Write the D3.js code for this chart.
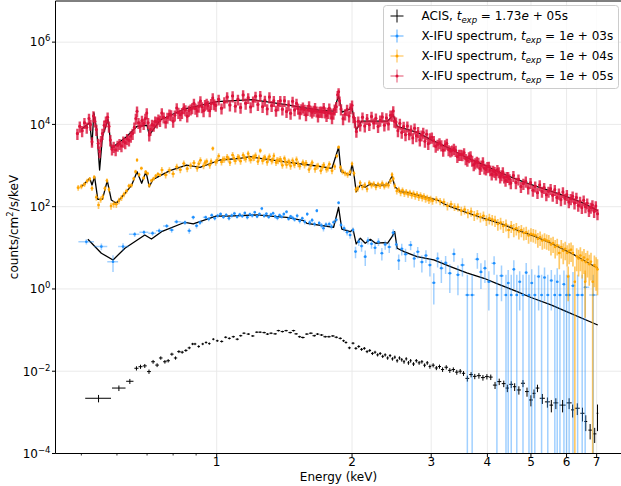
<!DOCTYPE html>
<html>
<head>
<meta charset="utf-8">
<script src="https://cdn.jsdelivr.net/npm/d3@7"></script>
<style>
  body { margin: 0; background: #fff; }
  svg { display: block; font-family: "DejaVu Sans", sans-serif; }
  text { white-space: pre; }
</style>
</head>
<body>
<svg id="chart" width="621" height="486"></svg>
<script>
// ---- Chandra ACIS spectrum: [energy keV, half bin width, value, error]
const acis = [
  [0.546,0.036,2.2e-3,0.45e-3],[0.606,0.021,3.9e-3,0.6e-3],[0.641,0.012,5.7e-3,0.8e-3],
  [0.663,0.007,1.18e-2,1.4e-3],[0.677,0.007,1.29e-2,1.5e-3],[0.692,0.007,1.35e-2,1.5e-3],
  [0.707,0.007,9.8e-3,1.2e-3],[0.722,0.007,1.7e-2,1.8e-3],[0.737,0.007,1.41e-2,1.5e-3],
  [0.751,0.007,2.1e-2,2.0e-3],[0.767,0.007,1.7e-2,1.7e-3],[0.780,0.007,1.8e-2,1.7e-3],
  [0.795,0.007,2.6e-2,2.2e-3],[0.810,0.007,2.1e-2,1.9e-3],[0.824,0.007,3.0e-2,2.4e-3],
  [0.838,0.007,2.9e-2,2.3e-3],[0.854,0.007,3.2e-2,2.4e-3],[0.869,0.007,3.7e-2,2.7e-3],
  [0.884,0.006,4.6e-2,3.0e-3],[0.895,0.006,4.6e-2,3.0e-3],[0.912,0.006,4.0e-2,2.8e-3],
  [0.931,0.006,4.6e-2,3.0e-3],[0.947,0.006,5.0e-2,3.2e-3],[0.963,0.006,4.7e-2,3.0e-3],
  [0.983,0.006,6.0e-2,3.5e-3],[1.003,0.007,5.5e-2,3.3e-3],[1.026,0.008,5.3e-2,3.2e-3],
  [1.047,0.008,6.7e-2,3.7e-3],[1.067,0.008,6.3e-2,3.6e-3],[1.089,0.009,6.9e-2,3.8e-3],
  [1.111,0.009,6.0e-2,3.5e-3],[1.131,0.009,7.3e-2,3.9e-3],[1.150,0.009,8.4e-2,4.2e-3],
  [1.176,0.010,8.0e-2,4.1e-3],[1.203,0.010,7.2e-2,3.9e-3],[1.228,0.010,8.9e-2,4.3e-3],
  [1.249,0.010,8.9e-2,4.3e-3],[1.275,0.011,8.7e-2,4.3e-3],[1.297,0.011,8.0e-2,4.1e-3],
  [1.321,0.011,8.4e-2,4.2e-3],[1.349,0.012,8.1e-2,4.1e-3],[1.372,0.012,9.7e-2,4.5e-3],
  [1.400,0.012,9.2e-2,4.4e-3],[1.427,0.012,9.7e-2,4.5e-3],[1.457,0.013,8.7e-2,4.3e-3],
  [1.482,0.013,9.7e-2,4.5e-3],[1.502,0.013,8.1e-2,4.1e-3],[1.529,0.013,6.9e-2,3.8e-3],
  [1.555,0.014,6.6e-2,3.7e-3],[1.587,0.014,8.0e-2,4.1e-3],[1.620,0.015,8.4e-2,4.2e-3],
  [1.648,0.015,7.3e-2,3.9e-3],[1.676,0.015,8.0e-2,4.1e-3],[1.711,0.016,7.6e-2,4.0e-3],
  [1.743,0.016,6.9e-2,3.8e-3],[1.777,0.016,6.9e-2,3.8e-3],[1.813,0.016,7.2e-2,3.9e-3],
  [1.845,0.016,6.7e-2,3.7e-3],[1.883,0.016,6.3e-2,3.6e-3],[1.915,0.013,5.5e-2,3.4e-3],
  [1.939,0.013,5.0e-2,3.2e-3],[1.973,0.015,3.7e-2,2.7e-3],[2.010,0.015,4.8e-2,3.1e-3],
  [2.040,0.015,3.6e-2,2.7e-3],[2.07,0.015,0.040,0.003],[2.10,0.015,0.034,0.0027],
  [2.13,0.015,0.036,0.0028],[2.16,0.015,0.030,0.0025],[2.19,0.015,0.032,0.0026],
  [2.22,0.015,0.027,0.0023],[2.25,0.015,0.029,0.0024],[2.28,0.015,0.025,0.0022],
  [2.31,0.015,0.027,0.0023],[2.34,0.015,0.023,0.0021],[2.37,0.015,0.025,0.0022],
  [2.40,0.015,0.021,0.0020],[2.43,0.015,0.024,0.0021],[2.46,0.015,0.020,0.0019],
  [2.49,0.015,0.022,0.0020],[2.52,0.015,0.018,0.0018],[2.55,0.015,0.021,0.0020],
  [2.58,0.015,0.019,0.0019],[2.61,0.015,0.017,0.0018],[2.64,0.015,0.020,0.0019],
  [2.67,0.015,0.016,0.0017],[2.70,0.015,0.018,0.0018],[2.74,0.02,0.015,0.0016],
  [2.78,0.02,0.018,0.0018],[2.82,0.02,0.016,0.0017],[2.86,0.02,0.017,0.0017],
  [2.90,0.02,0.014,0.0015],[2.94,0.02,0.016,0.0017],[2.98,0.02,0.013,0.0015],
  [3.03,0.025,0.014,0.0016],[3.08,0.025,0.012,0.0014],[3.13,0.025,0.013,0.0015],
  [3.18,0.025,0.011,0.0014],[3.24,0.03,0.0125,0.0015],[3.30,0.03,0.0105,0.0014],
  [3.36,0.03,0.011,0.0014],[3.42,0.03,0.0095,0.0013],[3.48,0.03,0.0100,0.0013],
  [3.54,0.03,0.0089,0.0012],[3.61,0.035,0.0067,0.0011],[3.68,0.035,0.0083,0.0012],
  [3.75,0.035,0.0075,0.0011],[3.83,0.04,0.0078,0.0012],[3.91,0.04,0.0070,0.0011],
  [3.99,0.04,0.0074,0.0011],[4.07,0.04,0.0072,0.0011],[4.16,0.045,0.0046,0.0009],
  [4.25,0.045,0.0056,0.0010],[4.35,0.045,0.0050,0.0009],[4.43,0.04,0.0039,0.0008],
  [4.52,0.045,0.0048,0.0009],[4.60,0.04,0.0042,0.0009],[4.70,0.05,0.0035,0.0008],
  [4.80,0.05,0.0051,0.0010],[4.90,0.05,0.0032,0.0008],[5.00,0.05,0.0020,0.0006],
  [5.08,0.04,0.0029,0.0007],[5.17,0.05,0.0039,0.0008],[5.30,0.07,0.0022,0.0006],
  [5.44,0.07,0.0018,0.0005],[5.55,0.05,0.0015,0.0005],[5.68,0.07,0.0017,0.0005],
  [5.88,0.09,0.0015,0.0005],[6.08,0.08,0.0017,0.0005],[6.19,0.05,0.00115,0.0004],
  [6.34,0.08,0.00126,0.0004],[6.51,0.07,0.00095,0.00035],[6.62,0.05,0.00060,0.00025],
  [6.77,0.06,0.00037,0.00015],[6.93,0.06,0.00030,0.00012],[7.03,0.03,0.00095,0.0006]
];

// ---- X-IFU simulated spectra: [energy keV, value, error]
const ifu1e3 = [
  [0.513,14.1,2.0],[0.554,10.7,2.0],[0.588,4.6,2.0],[0.619,10.7,2.2],[0.657,21.3,3.0],
  [0.689,23.9,3.0],[0.720,22.6,3.0],[0.745,26.1,3.5],[0.774,34,4],[0.794,27.2,4],
  [0.814,43.2,5],[0.850,41,5],[0.869,26,4],[0.887,55,6],[0.902,34.5,5],[0.918,41,5],
  [0.945,55,6],[0.960,50,6],[0.975,62,7],[0.990,52,6],[1.005,60,7],[1.020,66,7],
  [1.035,56,6],[1.050,63,7],[1.065,52,6],[1.080,61,7],[1.095,68,7],[1.110,57,6],
  [1.125,64,7],[1.140,59,6],[1.155,70,7],[1.170,55,6],[1.185,65,7],[1.200,61,7],
  [1.215,73,7],[1.230,58,6],[1.245,66,7],[1.260,90,8],[1.275,60,7],[1.290,67,7],
  [1.305,56,6],[1.320,64,7],[1.335,69,7],[1.350,58,7],[1.365,53,6],[1.380,62,7],
  [1.395,57,6],[1.410,66,7],[1.430,75,7],[1.445,51,6],[1.460,58,6],[1.475,54,6],
  [1.490,49,6],[1.510,60,7],[1.530,45,6],[1.550,52,6],[1.570,43,6],[1.590,66,7],
  [1.610,41,6],[1.630,47,6],[1.650,38,5],[1.670,80,8],[1.690,40,5],[1.710,35,5],
  [1.728,30,5],[1.750,37,5],[1.780,38,5],[1.800,33,5],[1.820,42,5],[1.845,48,6],
  [1.867,125,12],[1.890,36,5],[1.920,30,5],[1.950,24,4],[1.980,20.5,4],[2.010,27,4],
  [2.036,8.1,2.5],[2.070,14,3],[2.100,11,3],[2.140,6.1,2.5],[2.170,15,3],[2.210,12.5,3],
  [2.250,10,3],[2.290,14,3],[2.330,7.4,2.5],[2.370,12,3],[2.420,10.5,3],[2.470,23.4,5],
  [2.510,12,3],[2.540,4.9,2],[2.580,9.5,3],[2.630,7,2.5],[2.700,11.7,3],[2.750,5.5,2.2],
  [2.800,8,2.5],[2.860,4.5,2],[2.920,6.5,2.2],[2.980,3.8,1.8],[3.040,1.42,1.0],
  [3.100,5.5,2.2],[3.160,3.2,1.8],[3.230,4.3,2],[3.300,2.4,1.6],[3.370,7.1,2.5],
  [3.440,2.2,1.5],[3.520,3.8,1.8],[3.610,0.71,1.5],[3.700,0.71,1.5],[3.800,5.3,2.2],
  [3.870,2.6,1.6],[3.950,3.2,1.8],[4.030,1.5,1.2],[4.140,4.2,2.0],[4.200,0.71,1.5],
  [4.300,2.1,1.6],[4.400,0.71,1.5],[4.450,1.4,1.5],[4.520,0.71,1.5],[4.580,3.0,2.0],
  [4.650,0.71,1.5],[4.720,1.5,1.2],[4.800,0.71,1.5],[4.880,2.5,1.8],[4.950,0.71,1.5],
  [5.020,1.4,1.6],[5.100,0.71,1.5],[5.200,2.0,1.7],[5.280,0.71,1.5],[5.360,1.9,1.4],
  [5.450,0.71,1.5],[5.550,1.6,1.3],[5.650,0.71,1.5],[5.720,1.5,1.7],[5.800,0.71,1.5],
  [5.920,1.3,1.5],[6.000,0.71,1.5],[6.080,0.71,1.5],[6.200,1.2,1.4],[6.350,0.71,1.5],
  [6.500,0.71,1.5],[6.600,1.1,1.3],[6.880,0.71,1.5]
];

const ifu1e4 = [
  [0.492,290,45],[0.500,310,45],[0.508,350,50],[0.515,420,55],[0.522,470,60],[0.528,280,40],
  [0.534,520,65],[0.540,170,30],[0.546,110,22],[0.552,150,26],[0.558,175,28],[0.564,280,40],
  [0.570,430,55],[0.576,260,38],[0.582,104,20],[0.590,116,22],[0.598,115,22],[0.606,140,25],
  [0.614,165,27],[0.622,200,30],[0.630,240,34],[0.638,320,42],[0.646,330,42],[0.654,480,55],
  [0.660,710,75],[0.665,1360,140],[0.672,600,65],[0.680,860,90],[0.688,500,55],[0.695,700,75],
  [0.702,640,70],[0.708,330,42],[0.716,430,50],[0.724,480,55],[0.732,560,60],[0.740,620,65],
  [0.748,590,62],
  [0.755,780,140],[0.770,590,105],[0.785,770,140],[0.800,630,115],[0.815,930,170],
  [0.830,790,140],[0.845,1120,200],[0.860,840,150],[0.875,1000,180],[0.890,1160,210],
  [0.905,860,155],[0.912,1100,200],[0.920,1340,240],[0.935,990,180],[0.942,1180,210],
  [0.950,1260,230],[0.965,1020,185],[0.972,1260,230],[0.980,2600,300],[0.995,1210,220],
  [1.002,1340,240],[1.010,1700,300],[1.025,1220,220],[1.032,1400,250],[1.040,1420,255],
  [1.055,1620,290],[1.062,1470,265],[1.070,1180,210],[1.085,1800,320],[1.092,1510,270],
  [1.100,1290,230],[1.115,1620,290],[1.122,1550,280],[1.130,1280,230],[1.145,1790,320],
  [1.152,1570,280],[1.160,1440,260],[1.175,1950,350],[1.182,1540,280],[1.190,1370,250],
  [1.205,1560,280],[1.212,1580,285],[1.220,1750,315],[1.235,1250,225],[1.242,1550,280],
  [1.250,2300,300],[1.265,1300,235],[1.272,1510,270],[1.280,1580,285],[1.295,1210,220],
  [1.302,1460,260],[1.310,1660,300],[1.325,1300,235],[1.332,1390,250],[1.340,1730,310],
  [1.355,1190,215],[1.362,1340,240],[1.370,1320,240],[1.385,1440,260],[1.392,1280,230],
  [1.400,1010,180],[1.415,1490,270],[1.422,1230,220],[1.430,1040,190],[1.445,1260,225],
  [1.452,1190,215],[1.460,970,175],[1.475,1330,240],[1.482,1150,205],[1.490,1050,190],
  [1.505,1400,250],[1.518,1110,200],[1.530,960,175],[1.555,1190,215],[1.568,1040,190],
  [1.580,1150,205],[1.605,800,145],[1.618,990,180],[1.630,1180,210],[1.655,820,150],
  [1.668,950,170],[1.680,990,180],[1.705,750,135],[1.718,910,165],[1.730,1040,185],
  [1.755,810,145],[1.768,870,155],[1.780,1080,195],[1.805,750,135],[1.830,950,170],
  [1.850,1700,200],[1.867,2800,250],[1.885,900,130],[1.905,720,110],[1.930,650,100],
  [1.955,600,95],[1.980,700,105],[2.000,1100,150],[2.020,650,100],[2.040,260,45],
  [2.060,280,48],[2.085,380,60],[2.110,300,50],[2.135,340,55],[2.160,270,45],[2.185,380,60],
  [2.210,330,55],[2.235,360,58],[2.260,300,50],[2.285,350,56],[2.310,320,52],[2.335,370,60],
  [2.360,310,50],[2.385,350,56],[2.410,330,55],[2.435,420,65],[2.455,600,85],[2.470,480,70],
  [2.490,320,52],[2.515,240,42],[2.540,260,45],[2.565,220,40],[2.590,250,43],[2.615,210,38],
  [2.640,230,40],[2.665,200,36],[2.690,220,39],[2.715,190,35],[2.740,210,38],[2.765,180,33],
  [2.790,200,36],[2.815,170,32],[2.840,190,35],[2.865,165,31],[2.890,180,33],[2.915,155,30],
  [2.940,165,31],[2.965,145,28],[2.990,155,29],[3.02,140,28],[3.08,150,30],
  [3.14,135,27],[3.20,130,27],[3.26,105,24],[3.32,115,25],[3.38,100,22],[3.44,98,22],
  [3.50,80,20],[3.56,85,20],[3.62,70,18],[3.68,76,19],[3.74,62,17],[3.80,66,17],
  [3.86,56,15],[3.92,60,16],[3.98,48,14],[4.04,52,15],[4.10,49,14],[4.16,46,14],
  [4.22,38,12],[4.28,41,13],[4.34,34,11],[4.40,37,12],[4.46,27,10],[4.52,34,11],
  [4.58,28,10],[4.64,30,10],[4.70,25,9],[4.76,27,9],[4.82,23,8],[4.88,24,8.5],
  [4.94,20,7.5],[5.00,22,8],[5.06,21,7.5],[5.12,20,7.5],[5.18,16.5,6.5],[5.24,18,7],
  [5.30,15,6],[5.36,16,6.5],[5.42,15,6],[5.48,14.5,6],[5.54,12,5.5],[5.60,13,5.5],
  [5.66,10.5,5],[5.72,11.5,5],[5.78,7.5,4.5],[5.84,10.5,5],[5.90,8.5,4.5],[5.96,9.5,4.5],
  [6.02,7.5,4],[6.05,2.0,1.5],[6.08,8.5,4.5],[6.14,9.0,4.5],[6.20,7.5,4],[6.26,1.5,2.0],
  [6.32,6.2,3.5],[6.38,5.5,3.5],[6.44,6.5,3.8],[6.50,5.0,3.2],[6.56,5.8,3.5],[6.60,1.5,1.3],
  [6.62,4.5,3],[6.68,5.2,3.3],[6.74,4.0,2.8],[6.80,4.6,3],[6.86,1.5,2.2],[6.92,3.8,2.7],
  [6.98,3.4,2.5],[7.03,3.0,2.3]
];

const ifu1e5 = [
  [0.490,6000,1800],[0.496,9000,2700],[0.502,7000,2100],[0.508,11000,3300],[0.514,8500,2600],
  [0.520,14000,4200],[0.524,10000,3000],[0.528,3800,1100],[0.532,16000,4800],[0.536,12000,3600],
  [0.540,7500,2300],[0.545,3500,1000],[0.549,2200,700],[0.553,4000,1200],[0.557,6000,1800],
  [0.562,9500,2900],[0.567,12000,3600],[0.572,15000,4500],[0.576,9000,2700],[0.580,4200,1300],
  [0.585,2500,750],[0.590,2900,870],[0.596,2400,720],[0.602,3100,930],[0.608,3400,1000],
  [0.614,3000,900],[0.620,3900,1200],[0.626,3600,1100],[0.632,4500,1350],[0.638,4100,1200],
  [0.644,5200,1600],[0.650,6000,1800],[0.656,8500,2600],[0.661,14000,4200],[0.665,21000,6300],
  [0.670,11000,3300],[0.676,9000,2700],[0.682,12500,3800],[0.688,10500,3200],[0.694,14000,4200],
  [0.699,19000,5700],[0.704,11000,3300],[0.708,5500,1650],[0.712,7500,2250],[0.718,10000,3000],
  [0.724,9500,2900],[0.730,12000,3600],[0.736,11500,3500],[0.742,13500,4000],[0.748,12500,3800],
  [0.755,18900,5700],[0.762,15000,4500],[0.770,11300,3400],[0.777,14800,4400],[0.785,17600,5300],
  [0.792,17000,5100],[0.800,11900,3600],[0.807,16800,5000],[0.815,25200,7600],[0.822,19500,5900],
  [0.830,17200,5200],[0.837,19300,5800],[0.845,25200,7600],[0.852,22500,6800],[0.860,15800,4700],
  [0.867,21800,6500],[0.875,23500,7000],[0.882,25200,7600],[0.890,32500,9800],[0.897,24500,7400],
  [0.905,21300,6400],[0.912,27500,8300],[0.920,37100,11000],[0.927,26800,8000],[0.935,21400,6400],
  [0.942,30000,9000],[0.950,32500,9800],[0.957,29000,8700],[0.965,21400,6400],[0.972,32000,9600],
  [0.980,44100,13000],[0.987,31500,9500],[0.995,29000,8700],[1.010,40800,12000],
  [1.025,24800,7400],[1.040,35000,10500],[1.055,46200,14000],[1.070,29500,8900],
  [1.085,49300,15000],[1.100,27800,8300],[1.115,40700,12000],[1.130,25900,7800],
  [1.145,51800,15500],[1.160,32600,9800],[1.175,44400,13000],[1.190,26600,8000],
  [1.205,37000,11000],[1.220,48100,14500],[1.235,30300,9100],[1.250,50000,15000],
  [1.265,27000,8100],[1.280,38500,11500],[1.295,23800,7100],[1.310,46200,14000],
  [1.325,28600,8600],[1.340,37800,11300],[1.355,22000,6600],[1.370,30000,9000],
  [1.385,37700,11300],[1.400,23400,7000],[1.415,37800,11300],[1.430,20600,6200],
  [1.445,29700,8900],[1.460,18600,5600],[1.475,36400,10900],[1.490,22400,6700],
  [1.505,32500,9800],[1.518,24500,7400],[1.530,18700,5600],[1.543,23800,7100],[1.555,26300,7900],
  [1.568,23000,6900],[1.580,17000,5100],[1.593,22800,6800],[1.605,28100,8400],[1.618,22000,6600],
  [1.630,19800,5900],[1.643,21800,6500],[1.655,25400,7600],[1.668,21000,6300],[1.680,16000,4800],
  [1.693,20500,6200],[1.705,20900,6300],[1.718,20200,6100],[1.730,25600,7700],[1.743,19800,5900],
  [1.755,16400,4900],[1.768,19500,5900],[1.780,24700,7400],[1.793,18800,5600],[1.805,14400,4300],
  [1.818,18600,5600],[1.830,23500,7000],[1.845,27000,8100],[1.858,52500,12000],[1.867,62000,14000],
  [1.876,37800,10000],[1.890,23600,7100],[1.910,13700,4100],[1.930,17900,5400],[1.950,23000,6900],
  [1.970,16000,4800],[1.985,25300,7600],[2.000,29400,8800],[2.015,15200,4600],[2.030,11600,3500],
  [2.045,6750,2000],[2.065,12000,3600],[2.085,9600,2900],[2.110,15000,4500],[2.135,9100,2700],
  [2.160,13800,4100],[2.185,9800,2900],[2.210,15600,4700],[2.235,10800,3200],[2.260,14200,4300],
  [2.285,8900,2700],[2.310,12600,3800],[2.335,15200,4600],[2.360,9600,2900],[2.385,14400,4300],
  [2.410,10200,3100],[2.435,16700,5000],[2.455,16600,5000],[2.470,21300,6400],[2.485,11900,3600],
  [2.505,11400,3400],[2.530,7000,2100],[2.555,10600,3200],[2.580,6400,1900],[2.605,8900,2700],
  [2.630,5600,1700],[2.655,9100,2700],[2.680,5800,1700],[2.705,7300,2200],[2.730,4700,1400],
  [2.755,8100,2400],[2.780,5300,1600],[2.805,6600,2000],[2.830,4200,1300],[2.855,5500,1650],
  [2.880,6400,1900],[2.905,3900,1200],[2.930,5800,1700],[2.955,3400,1000],[2.980,4700,1400],
  [3.01,4900,1500],[3.04,4000,1200],[3.07,2950,890],[3.10,3280,980],[3.13,3560,1070],
  [3.16,3150,950],[3.19,2340,700],[3.22,3160,950],[3.25,3440,1030],[3.28,2410,720],
  [3.31,2250,680],[3.34,2370,710],[3.37,2590,780],[3.40,2320,700],[3.43,1640,490],
  [3.46,1850,560],[3.49,1850,560],[3.52,1820,550],[3.55,2040,610],[3.58,1460,440],
  [3.61,1330,400],[3.64,1620,490],[3.67,1710,510],[3.70,1340,400],[3.73,1050,320],
  [3.76,1150,350],[3.79,1260,380],[3.82,1190,360],[3.85,835,250],[3.88,1020,310],
  [3.91,1225,370],[3.94,865,260],[3.97,810,240],[4.00,934,280],[4.03,955,290],[4.06,776,230],
  [4.09,616,185],[4.12,762,230],[4.15,710,210],[4.18,617,185],[4.21,792,240],[4.24,699,210],
  [4.27,525,160],[4.30,590,177],[4.33,695,210],[4.36,523,157],[4.39,435,130],[4.42,538,161],
  [4.45,535,160],[4.48,475,143],[4.51,374,110],[4.57,569,170],[4.63,387,120],[4.69,466,140],
  [4.75,308,92],[4.81,365,110],[4.87,414,125],[4.93,284,85],[4.99,384,115],[5.05,250,75],
  [5.11,315,95],[5.17,218,65],[5.23,338,100],[5.29,234,70],[5.35,290,87],[5.41,195,59],
  [5.47,236,71],[5.53,274,82],[5.59,189,57],[5.65,259,78],[5.71,167,50],[5.77,212,64],
  [5.83,147,44],[5.89,228,68],[5.95,158,47],[6.01,196,59],[6.07,130,39],[6.13,156,47],
  [6.19,179,54],[6.25,123,37],[6.31,167,50],[6.37,107,32],[6.43,135,40],[6.49,94,28],
  [6.55,144,43],[6.61,99,30],[6.67,121,36],[6.73,80,24],[6.79,96,29],[6.85,110,33],
  [6.91,76,23],[6.97,104,31],[7.03,67,20]
];

// ---- folded source models for each exposure: [energy keV, value]
const model1e3 = [
  [0.517,16.1],[0.554,7.4],[0.588,5.07],[0.625,9.75],[0.692,20.5],[0.716,16.4],[0.754,24.7],
  [0.850,41.8],[0.887,38],[1.0,59.4],[1.053,59],[1.228,62.9],[1.315,59],[1.432,55],[1.56,45.7],
  [1.587,39.5],[1.82,31.6],[1.867,96.7],[1.898,28.3],[1.982,24.7],[2.01,28.3],[2.043,12.4],
  [2.087,17.1],[2.14,12.9],[2.197,16.1],[2.256,12.9],[2.35,13.3],[2.40,13.0],[2.455,18.7],
  [2.488,24.7],[2.52,9.75],[2.61,8.06],[2.79,6.1],[3.04,5.07],[3.31,3.48],[3.6,2.45],
  [3.93,1.82],[4.2,1.35],[4.66,0.86],[5.0,0.62],[5.54,0.41],[6.0,0.28],[7.04,0.133]
];
const model1e4 = [
  [0.500,306],[0.513,405],[0.522,490],[0.528,337],[0.535,536],[0.544,151],[0.557,151],
  [0.571,428],[0.583,145],[0.598,121],[0.630,232],[0.647,337],[0.665,710],[0.681,371],
  [0.696,710],[0.708,306],[0.722,463],[0.787,750],[0.857,1030],[0.918,906],[1.017,1364],
  [1.127,1500],[1.186,1640],[1.249,1500],[1.408,1240],[1.67,975],[1.805,857],[1.867,2775],
  [1.891,710],[1.982,589],[2.0,1135],[2.02,600],[2.043,232],[2.087,337],[2.14,296],
  [2.197,356],[2.28,330],[2.40,340],[2.455,557],[2.49,306],[2.563,232],[2.698,212],
  [2.89,175],[3.1,145],[3.2,118],[3.31,100],[3.6,72],[3.93,52],[4.3,38],[4.66,27],
  [5.1,19],[5.54,12.9],[6.2,7],[7.04,3.18]
];
const model1e5 = [
  [0.500,7600],[0.522,11000],[0.528,3160],[0.533,19300],[0.541,7300],[0.549,780],
  [0.557,5020],[0.573,13300],[0.583,2620],[0.630,5020],[0.665,9000],[0.700,9500],
  [0.708,5500],[0.75,13000],[0.85,24000],[1.0,36000],[1.2,40000],[1.4,31000],[1.7,22000],
  [1.82,21000],[1.867,50000],[1.9,20000],[2.0,25000],[2.043,7300],[2.1,12000],[2.4,12000],
  [2.47,17000],[2.52,9000],[2.8,6300],[3.0,4200],[3.3,2600],[3.6,1550],[4.0,950],
  [4.3,650],[4.7,440],[5.1,320],[5.5,245],[6.0,175],[6.5,125],[7.04,80]
];

// ---- axis ticks and legend text
const xTicks = [1, 2, 3, 4, 5, 6, 7];
const xMinorTicks = [0.5, 0.6, 0.7, 0.8, 0.9];
const yTickExponents = [-4, -2, 0, 2, 4, 6];
const legendNames = ["ACIS", "X-IFU spectrum", "X-IFU spectrum", "X-IFU spectrum"];
const legendMantissas = ["1.73", "1", "1", "1"];
const legendExponents = ["05", "03", "04", "05"];
const seriesColors = ["#000000", "#1e90ff", "#ffa500", "#dc143c"];

// ---- scales
const svg = d3.select("#chart");
const x = d3.scaleLog().domain([0.438, 7.95]).range([55.5, 621.5]);
const y = d3.scaleLog().domain([1e-4, 1e7]).range([453.5, 1]);
const plotLeft = 55.5, plotTop = 1, plotRight = 640, plotBottom = 453.5;

svg.append("defs").append("clipPath").attr("id", "plotClip")
  .append("rect").attr("x", plotLeft).attr("y", plotTop)
  .attr("width", plotRight - plotLeft).attr("height", plotBottom - plotTop);

// ---- grid
const grid = svg.append("g").attr("stroke", "#e8e8e8").attr("stroke-width", 0.9);
grid.selectAll("line.vx").data(xTicks).join("line")
  .attr("x1", d => x(d)).attr("x2", d => x(d)).attr("y1", plotTop).attr("y2", plotBottom);
grid.selectAll("line.hy").data(yTickExponents).join("line")
  .attr("x1", plotLeft).attr("x2", plotRight)
  .attr("y1", d => y(Math.pow(10, d))).attr("y2", d => y(Math.pow(10, d)));

const plot = svg.append("g").attr("clip-path", "url(#plotClip)");

// ---- model lines (under the data)
const line = d3.line().x(d => x(d[0])).y(d => y(d[1]));
[model1e3, model1e4, model1e5].forEach(m => {
  plot.append("path").datum(m).attr("d", line)
    .attr("fill", "none").attr("stroke", "#000").attr("stroke-width", 1.3)
    .attr("stroke-linejoin", "round");
});

const lowerY = (v, e) => (v - e > 0 ? y(v - e) : plotBottom + 10);

// ---- ACIS spectrum
const gA = plot.append("g").attr("stroke", "#000").attr("stroke-width", 1);
gA.selectAll("line.v").data(acis).join("line")
  .attr("x1", d => x(d[0])).attr("x2", d => x(d[0]))
  .attr("y1", d => y(d[2] + d[3])).attr("y2", d => lowerY(d[2], d[3]));
gA.selectAll("line.h").data(acis).join("line")
  .attr("x1", d => x(d[0] - d[1])).attr("x2", d => x(d[0] + d[1]))
  .attr("y1", d => y(d[2])).attr("y2", d => y(d[2]));

// ---- X-IFU spectra: bin edges taken halfway to neighbouring channels
function drawIFU(rows, color, barOpacity, barWidth, dotR) {
  const edges = rows.map((r, i) => {
    const e = r[0];
    const lo = i > 0 ? (e + rows[i - 1][0]) / 2 : e - (rows[i + 1][0] - e) / 2;
    const hi = i < rows.length - 1 ? (e + rows[i + 1][0]) / 2 : e + (e - rows[i - 1][0]) / 2;
    return [lo, hi];
  });
  const g = plot.append("g");
  const bars = g.append("g").attr("stroke", color).attr("stroke-opacity", barOpacity)
    .attr("stroke-width", barWidth);
  bars.selectAll("line.v").data(rows).join("line")
    .attr("x1", d => x(d[0])).attr("x2", d => x(d[0]))
    .attr("y1", d => y(d[1] + d[2])).attr("y2", d => lowerY(d[1], d[2]));
  bars.selectAll("line.h").data(rows).join("line")
    .attr("x1", (d, i) => x(edges[i][0])).attr("x2", (d, i) => x(edges[i][1]))
    .attr("y1", d => y(d[1])).attr("y2", d => y(d[1]));
  g.selectAll("circle").data(rows).join("circle")
    .attr("cx", d => x(d[0])).attr("cy", d => y(d[1])).attr("r", dotR).attr("fill", color);
}
drawIFU(ifu1e3, seriesColors[1], 0.42, 1.5, 1.3);
drawIFU(ifu1e4, seriesColors[2], 0.6, 1.7, 1.3);
drawIFU(ifu1e5, seriesColors[3], 0.8, 2.4, 1.5);

// ---- spines and ticks
const axes = svg.append("g").attr("stroke", "#000").attr("stroke-width", 1);
axes.append("line").attr("x1", plotLeft).attr("x2", plotLeft).attr("y1", plotTop).attr("y2", plotBottom);
axes.append("line").attr("x1", plotLeft).attr("x2", 621).attr("y1", plotBottom).attr("y2", plotBottom);
axes.append("line").attr("x1", plotLeft).attr("x2", 621).attr("y1", plotTop).attr("y2", plotTop);
axes.selectAll("line.xt").data(xTicks).join("line")
  .attr("x1", d => x(d)).attr("x2", d => x(d)).attr("y1", plotBottom).attr("y2", plotBottom + 3.5);
axes.selectAll("line.xm").data(xMinorTicks).join("line")
  .attr("x1", d => x(d)).attr("x2", d => x(d)).attr("y1", plotBottom).attr("y2", plotBottom + 2)
  .attr("stroke-width", 0.8);
axes.selectAll("line.yt").data(yTickExponents).join("line")
  .attr("x1", plotLeft - 3.5).attr("x2", plotLeft)
  .attr("y1", d => y(Math.pow(10, d))).attr("y2", d => y(Math.pow(10, d)));

const fs = 12;
svg.append("g").selectAll("text").data(xTicks).join("text")
  .attr("x", d => x(d)).attr("y", 466).attr("text-anchor", "middle")
  .attr("font-size", fs).attr("fill", "#000").text(d => d);

const yl = svg.append("g").selectAll("text").data(yTickExponents).join("text")
  .attr("x", 50.5).attr("y", d => y(Math.pow(10, d)) + 4.3)
  .attr("text-anchor", "end").attr("font-size", fs).attr("fill", "#000");
yl.append("tspan").text("10");
yl.append("tspan").attr("font-size", 8.5).attr("dy", -5)
  .text(d => (d < 0 ? "\u2212" + Math.abs(d) : String(d)));

svg.append("text").attr("x", 338.5).attr("y", 480.5).attr("text-anchor", "middle")
  .attr("font-size", fs).attr("fill", "#000").text("Energy (keV)");

const ylab = svg.append("text").attr("transform", "translate(18,227) rotate(-90)")
  .attr("text-anchor", "middle").attr("font-size", fs).attr("fill", "#000");
ylab.append("tspan").text("counts/cm");
ylab.append("tspan").attr("font-size", 8.5).attr("dy", -5).text("2");
ylab.append("tspan").attr("dy", 5).text("/s/keV");

// ---- legend
const lg = svg.append("g");
lg.append("rect").attr("x", 383.5).attr("y", 5.5).attr("width", 235).attr("height", 83)
  .attr("rx", 3).attr("fill", "#fff").attr("fill-opacity", 0.8)
  .attr("stroke", "#cccccc").attr("stroke-width", 1);
legendNames.forEach((name, i) => {
  const cy = 16 + i * 20, cx = 397;
  const col = seriesColors[i];
  const h = lg.append("g");
  if (i === 0) {
    h.attr("stroke", col).attr("stroke-width", 1);
    h.append("line").attr("x1", cx - 6.5).attr("x2", cx + 6.5).attr("y1", cy).attr("y2", cy);
    h.append("line").attr("x1", cx).attr("x2", cx).attr("y1", cy - 6.5).attr("y2", cy + 6.5);
  } else {
    const b = h.append("g").attr("stroke", col).attr("stroke-opacity", 0.5).attr("stroke-width", 1.5);
    b.append("line").attr("x1", cx - 6.5).attr("x2", cx + 6.5).attr("y1", cy).attr("y2", cy);
    b.append("line").attr("x1", cx).attr("x2", cx).attr("y1", cy - 6.5).attr("y2", cy + 6.5);
    h.append("circle").attr("cx", cx).attr("cy", cy).attr("r", 1.5).attr("fill", col);
  }
  const t = lg.append("text").attr("x", 421.5).attr("y", cy + 4.3)
    .attr("font-size", fs).attr("fill", "#000");
  t.append("tspan").text(name + ", ");
  t.append("tspan").attr("font-style", "italic").text("t");
  t.append("tspan").attr("font-style", "italic").attr("font-size", 8.5).attr("dy", 2.5).text("exp");
  t.append("tspan").attr("dy", -2.5).text(" = " + legendMantissas[i]);
  t.append("tspan").attr("font-style", "italic").text("e");
  t.append("tspan").text(" + " + legendExponents[i] + "s");
});
</script>
</body>
</html>
